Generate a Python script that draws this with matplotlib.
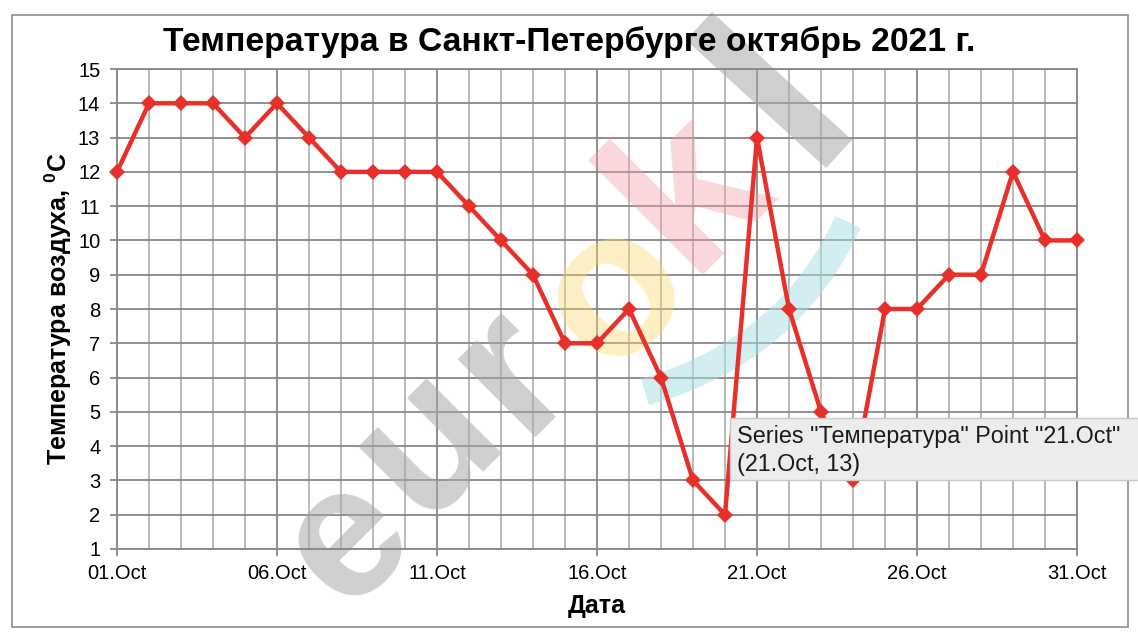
import numpy as np
import matplotlib
matplotlib.use('Agg')
from matplotlib import pyplot as plt
from matplotlib.patches import Rectangle
from matplotlib.path import Path
from matplotlib.patches import PathPatch

plt.rcParams['font.family'] = ['Liberation Sans', 'DejaVu Sans']
plt.rcParams['mathtext.fontset'] = 'custom'
plt.rcParams['mathtext.bf'] = 'Liberation Sans:bold'
plt.rcParams['mathtext.rm'] = 'Liberation Sans'

# temperature for every day of October 2021
dates = ['%02d.Oct' % d for d in range(1, 32)]
temps = [12, 14, 14, 14, 13, 14, 13, 12, 12, 12,
         12, 11, 10, 9, 7, 7, 8, 6, 3, 2,
         13, 8, 5, 3, 8, 8, 9, 9, 12, 10, 10]
y_ticks = list(range(1, 16))

title = 'Температура в Санкт-Петербурге октябрь 2021 г.'
xlabel = 'Дата'
ylabel = r'Температура воздуха, $^\mathbf{0}$C'
tooltip = ['Series "Температура" Point "21.Oct"', '(21.Oct, 13)']

W, H = 1138, 642
fig = plt.figure(figsize=(W / 100, H / 100), dpi=100)
fig.patch.set_facecolor('white')


def fx(px):
    return px / W


def fy(py):
    return 1 - py / H


# chart area border
fig.patches.append(Rectangle((fx(12), fy(627)), fx(1128) - fx(12), fy(15) - fy(627),
                             transform=fig.transFigure, fill=False,
                             edgecolor='#8c8c8c', lw=1.2))

ax = fig.add_axes([fx(117), fy(549), fx(1077) - fx(117), fy(69) - fy(549)])
ax.set_facecolor('white')

x = np.arange(len(temps))
ax.set_xlim(0, len(temps) - 1)
ax.set_ylim(y_ticks[0], y_ticks[-1])

major_x = x[::5]
ax.set_xticks(major_x)
ax.set_xticklabels([dates[i] for i in major_x])
ax.set_xticks(x, minor=True)
ax.set_yticks(y_ticks)

ax.grid(True, which='minor', axis='x', color='#b4b4b4', lw=1.3)
ax.grid(True, which='major', axis='x', color='#878787', lw=1.3)
ax.grid(True, which='major', axis='y', color='#878787', lw=1.3)
ax.set_axisbelow(True)
for s in ax.spines.values():
    s.set_color('#878787')
    s.set_linewidth(1.3)

ax.tick_params(axis='both', which='major', direction='out', length=5,
               width=1.3, color='#878787', labelsize=14.5, labelcolor='black')
ax.tick_params(axis='x', which='minor', length=0)
ax.tick_params(axis='y', pad=7)
ax.tick_params(axis='x', pad=6)

# watermark (drawn faintly over the grid, under the series)
wm = dict(transform=fig.transFigure, rotation=45, ha='center', va='center',
          fontweight='bold', zorder=1.5, clip_on=False)
ax.text(fx(348), fy(540), 'e', fontsize=135, color='#a8a8a8', alpha=0.55, **wm)
ax.text(fx(428), fy(442), 'u', fontsize=145, color='#a8a8a8', alpha=0.55, **wm)
ax.text(fx(512), fy(370), 'r', fontsize=150, color='#a8a8a8', alpha=0.55, **wm)
ax.text(fx(615), fy(292), 'o', fontsize=150, color='#fcd96a', alpha=0.4, **wm)
ax.text(fx(690), fy(190), 'k', fontsize=160, color='#f29aa3', alpha=0.4, **wm)
verts = [(fx(712), fy(12)), (fx(852), fy(140)), (fx(826), fy(168)), (fx(686), fy(40)), (fx(712), fy(12))]
ax.add_patch(PathPatch(Path(verts, closed=True), transform=fig.transFigure,
                       facecolor='#a8a8a8', edgecolor='none', alpha=0.55, zorder=1.5,
                       clip_on=False))
sw = Path([(fx(645), fy(392)), (fx(790), fy(350)), (fx(848), fy(222))],
          [Path.MOVETO, Path.CURVE3, Path.CURVE3])
ax.add_patch(PathPatch(sw, transform=fig.transFigure, facecolor='none',
                       edgecolor='#a6dfe4', lw=20, alpha=0.5, zorder=1.5,
                       clip_on=False, capstyle='butt'))

ax.plot(x, temps, color='#e8302a', lw=3.2, marker='D', ms=8,
        markeredgewidth=0, zorder=3, clip_on=False)

fig.text(0.5, fy(42), title, ha='center', va='center', fontsize=24.2,
         fontweight='bold')
ax.set_xlabel(xlabel, fontsize=18, fontweight='bold', labelpad=8)
ax.set_ylabel(ylabel, fontsize=18, fontweight='bold', labelpad=3)

# tooltip box
fig.patches.append(Rectangle((fx(730), fy(480)), fx(1140) - fx(730), fy(418) - fy(480),
                             transform=fig.transFigure, facecolor='#ececec',
                             edgecolor='#c8c8c8', lw=1, zorder=10))
fig.text(fx(737), fy(437), tooltip[0], ha='left', va='center', fontsize=16.8,
         color='#1a1a1a', zorder=11)
fig.text(fx(737), fy(465), tooltip[1], ha='left', va='center', fontsize=16.8,
         color='#1a1a1a', zorder=11)

fig.savefig('out.png', dpi=100)
